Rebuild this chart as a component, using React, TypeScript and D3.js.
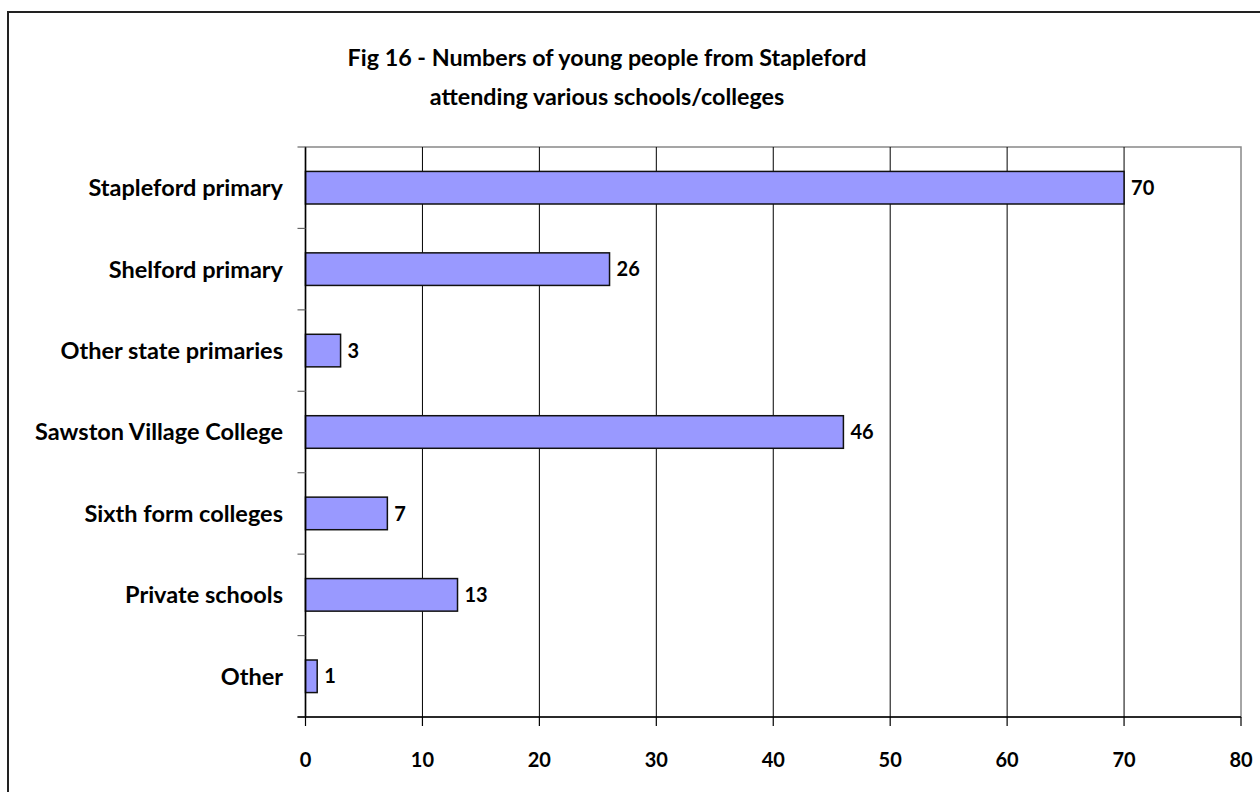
import React from "react";
import * as d3 from "d3";

const categories = [
  "Stapleford primary",
  "Shelford primary",
  "Other state primaries",
  "Sawston Village College",
  "Sixth form colleges",
  "Private schools",
  "Other",
];
const counts = [70, 26, 3, 46, 7, 13, 1];
const xTicks = [0, 10, 20, 30, 40, 50, 60, 70, 80];
const titleLines = [
  "Fig 16 - Numbers of young people from Stapleford",
  "attending various schools/colleges",
];

const W = 1260;
const H = 792;
const plot = { left: 305.5, right: 1241, top: 147, bottom: 717 };
const FONT = "Lato, 'Open Sans', sans-serif";

export default function App() {
  const x = d3.scaleLinear().domain([0, 80]).range([plot.left, plot.right]);
  const y = d3
    .scaleBand<string>()
    .domain(categories)
    .range([plot.top, plot.bottom])
    .paddingInner(0.6)
    .paddingOuter(0.3);
  const bandH = (plot.bottom - plot.top) / categories.length;
  const bounds = d3.range(categories.length + 1).map((i) => plot.top + i * bandH);

  return (
    <svg
      width={W}
      height={H}
      style={{ position: "absolute", left: 0, top: 0, background: "#fff" }}
      fontFamily={FONT}
    >
      <rect x={8} y={12} width={W} height={H} fill="#fff" stroke="#222" strokeWidth={2} />

      {titleLines.map((t, i) => (
        <text
          key={t}
          x={607}
          y={66 + i * 39}
          textAnchor="middle"
          fontSize={23.3}
          fontWeight={700}
          fill="#000"
        >
          {t}
        </text>
      ))}

      {/* plot frame */}
      <rect
        x={plot.left}
        y={plot.top}
        width={plot.right - plot.left}
        height={plot.bottom - plot.top}
        fill="#fff"
        stroke="#888"
        strokeWidth={1.5}
      />

      {/* vertical gridlines */}
      {xTicks.slice(1, -1).map((v) => (
        <line key={v} x1={x(v)} x2={x(v)} y1={plot.top} y2={plot.bottom} stroke="#000" strokeWidth={1} />
      ))}

      {/* bars */}
      {categories.map((c, i) => (
        <rect
          key={c}
          x={x(0)}
          y={y(c)}
          width={x(counts[i]) - x(0)}
          height={y.bandwidth()}
          fill="#9999FF"
          stroke="#111"
          strokeWidth={1.5}
        />
      ))}

      {/* value labels */}
      {categories.map((c, i) => (
        <text
          key={c}
          x={x(counts[i]) + 7}
          y={(y(c) as number) + y.bandwidth() / 2}
          dy="0.36em"
          fontSize={20}
          fontWeight={700}
          fill="#000"
        >
          {counts[i]}
        </text>
      ))}

      {/* y axis */}
      <line x1={plot.left} x2={plot.left} y1={plot.top} y2={plot.bottom} stroke="#000" strokeWidth={1.5} />
      {bounds.map((b, i) => (
        <line key={i} x1={plot.left - 8} x2={plot.left} y1={b} y2={b} stroke="#666" strokeWidth={1.2} />
      ))}
      {categories.map((c) => (
        <text
          key={c}
          x={283}
          y={(y(c) as number) + y.bandwidth() / 2}
          dy="0.36em"
          textAnchor="end"
          fontSize={23.5}
          fontWeight={700}
          fill="#000"
        >
          {c}
        </text>
      ))}

      {/* x axis */}
      <line x1={plot.left - 8} x2={plot.right} y1={plot.bottom} y2={plot.bottom} stroke="#000" strokeWidth={1.5} />
      {xTicks.map((v) => (
        <g key={v}>
          <line x1={x(v)} x2={x(v)} y1={plot.bottom} y2={plot.bottom + 9} stroke="#000" strokeWidth={1.2} />
          <text x={x(v)} y={767} textAnchor="middle" fontSize={20} fontWeight={700} fill="#000">
            {v}
          </text>
        </g>
      ))}
    </svg>
  );
}
